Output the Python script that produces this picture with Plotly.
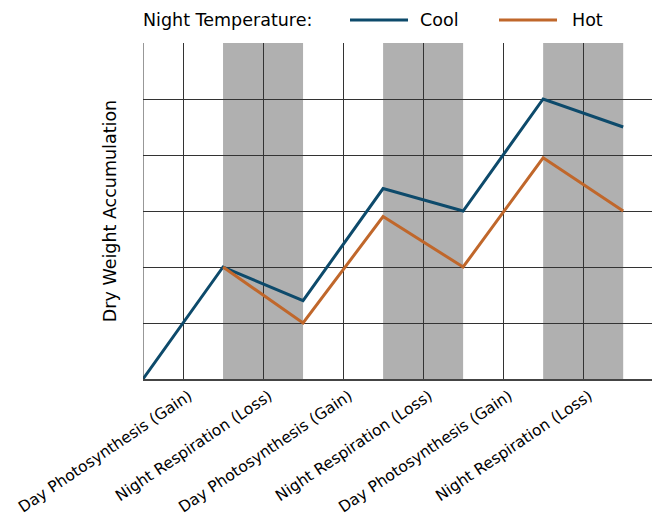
import plotly.graph_objects as go

stages = ["Day Photosynthesis (Gain)", "Night Respiration (Loss)",
          "Day Photosynthesis (Gain)", "Night Respiration (Loss)",
          "Day Photosynthesis (Gain)", "Night Respiration (Loss)"]
stage_pos = [0.5, 1.5, 2.5, 3.5, 4.5, 5.5]

cool_x = [0, 1, 2, 3, 4, 5, 6]
cool_y = [0, 2, 1.4, 3.4, 3.0, 5.0, 4.5]
hot_x = [1, 2, 3, 4, 5, 6]
hot_y = [2, 1.0, 2.9, 2.0, 3.95, 3.0]

night_start = [1, 3, 5]
night_end = [2, 4, 6]

COOL = "#0d4a6b"
HOT = "#c0672b"
FONT = "DejaVu Sans"

fig = go.Figure()
fig.add_trace(go.Scatter(x=cool_x, y=cool_y, mode="lines", name="Cool",
                         line=dict(color=COOL, width=3), showlegend=False))
fig.add_trace(go.Scatter(x=hot_x, y=hot_y, mode="lines", name="Hot",
                         line=dict(color=HOT, width=3), showlegend=False))

for a, b in zip(night_start, night_end):
    fig.add_vrect(x0=a, x1=b, fillcolor="#b0b0b0", line_width=0, layer="below", opacity=1)

# Legend drawn in the top margin (paper coordinates)
LEG_Y = 1.0685
fig.add_annotation(x=-0.004, y=LEG_Y, xref="paper", yref="paper", xanchor="left", yanchor="middle",
                   text="Night Temperature:", showarrow=False, font=dict(size=17.5))
for (x0, x1, tx, name, col) in [(0.4004, 0.5126, 0.5320, "Cool", COOL),
                                (0.6886, 0.8008, 0.8260, "Hot", HOT)]:
    fig.add_shape(type="line", xref="paper", yref="paper", x0=x0, x1=x1, y0=LEG_Y, y1=LEG_Y,
                  line=dict(color=col, width=3))
    fig.add_annotation(x=tx, y=LEG_Y, xref="paper", yref="paper", xanchor="left", yanchor="middle",
                       text=name, showarrow=False, font=dict(size=17.5))

fig.update_layout(
    width=652, height=511,
    margin=dict(l=135, r=0, t=35, b=140, autoexpand=False),
    plot_bgcolor="white", paper_bgcolor="white",
    font=dict(family=FONT, size=15.5, color="black"),
    showlegend=False,
    xaxis=dict(range=[0, 6.46], tickmode="array", tickvals=stage_pos, ticktext=stages,
               tickangle=-34, showgrid=True, gridcolor="#333333", gridwidth=1,
               showline=True, linecolor="#444444", linewidth=2, zeroline=False,
               ticks="", tickfont=dict(size=15.5), automargin=False, ticklabelshift=6),
    yaxis=dict(range=[0, 6], dtick=1, showticklabels=False, showgrid=True,
               gridcolor="#333333", gridwidth=1, showline=False, zeroline=False,
               automargin=False,
               title=dict(text="Dry Weight Accumulation", font=dict(size=17.5), standoff=20)),
)
fig.add_vline(x=0, line_color="#333333", line_width=1, layer="above")

fig.write_html("out.html")
